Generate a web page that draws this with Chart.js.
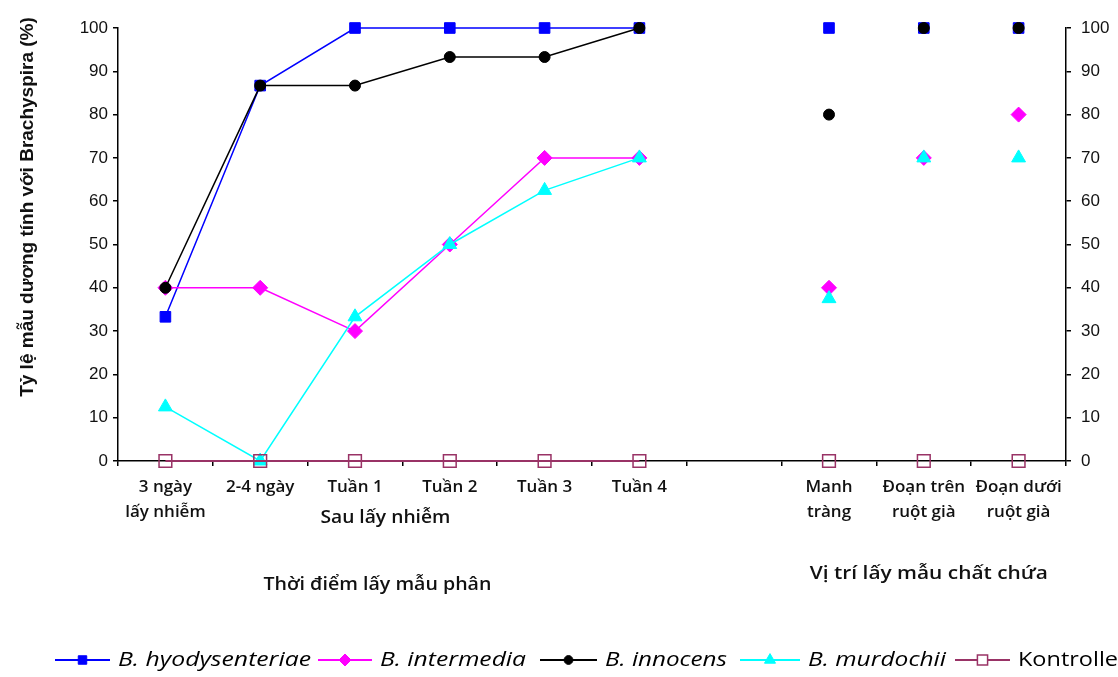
<!DOCTYPE html>
<html><head><meta charset="utf-8">
<script src="https://cdn.jsdelivr.net/npm/chart.js@4.4.0/dist/chart.umd.min.js"></script>
<style>html,body{margin:0;padding:0;background:#fff;overflow:hidden}#wrap{width:1118px;height:677px;position:relative}</style>
</head><body><div id="wrap"><canvas id="c" width="1118" height="677"></canvas></div>
<script>
const categories = [["3 ngày","lấy nhiễm"],"2-4 ngày","Tuần 1","Tuần 2","Tuần 3","Tuần 4","",["Manh","tràng"],["Đoạn trên","ruột già"],["Đoạn dưới","ruột già"]];
const hyodysenteriae = [33.3, 86.7, 100, 100, 100, 100, null, 100, 100, 100];
const intermedia     = [40, 40, 30, 50, 70, 70, null, 40, 70, 80];
const innocens       = [40, 86.7, 86.7, 93.3, 93.3, 100, null, 80, 100, 100];
const murdochii      = [12.5, 0, 33.3, 50, 62.5, 70, null, 37.5, 70, 70];
const kontrolle      = [0, 0, 0, 0, 0, 0, null, 0, 0, 0];
const seriesNames = ["B. hyodysenteriae","B. intermedia","B. innocens","B. murdochii","Kontrolle"];
const yTicks = [0,10,20,30,40,50,60,70,80,90,100];
const yTitle = "Tỷ lệ mẫu dương tính với Brachyspira (%)";
const subLabel = "Sau lấy nhiễm";
const xTitle1 = "Thời điểm lấy mẫu phân";
const xTitle2 = "Vị trí lấy mẫu chất chứa";

const hideRight = (col) => ({ borderColor: ctx => ctx.p0DataIndex >= 6 ? 'rgba(0,0,0,0)' : col });
function ds(label, data, col, style, radius, order, fill) {
  return { label, data, borderColor: col, backgroundColor: fill || col, pointBackgroundColor: fill || col,
    pointBorderColor: col, pointStyle: style, pointRadius: radius, pointHoverRadius: radius,
    borderWidth: 1.5, pointBorderWidth: 1, order, spanGaps: false, segment: hideRight(col), tension: 0, clip: false };
}
const styles = [
  { col: '#0000FF', style: 'rect', r: 7.5 },
  { col: '#FF00FF', style: 'rectRot', r: 7.5 },
  { col: '#000000', style: 'circle', r: 5.5 },
  { col: '#00FFFF', style: 'triangle', r: 8 },
  { col: '#993366', style: 'rect', r: 9, fill: 'rgba(0,0,0,0)' }
];
const datasets = [
  ds(seriesNames[0], hyodysenteriae, styles[0].col, styles[0].style, styles[0].r, 5),
  ds(seriesNames[1], intermedia, styles[1].col, styles[1].style, styles[1].r, 4),
  ds(seriesNames[2], innocens, styles[2].col, styles[2].style, styles[2].r, 3),
  ds(seriesNames[3], murdochii, styles[3].col, styles[3].style, styles[3].r, 2),
  ds(seriesNames[4], kontrolle, styles[4].col, styles[4].style, styles[4].r, 1, 'rgba(0,0,0,0)')
];
datasets[4].pointBorderWidth = 1.5;
datasets[4].borderWidth = 2;

const labelFont = "'Open Sans', 'Noto Sans', sans-serif";
function fitText(ctx, text, x, y, targetW, align) {
  const w = ctx.measureText(text).width;
  const sx = targetW / w;
  ctx.save();
  let x0 = x;
  if (align === 'center') x0 = x - targetW / 2;
  ctx.translate(x0, y);
  ctx.scale(sx, 1);
  ctx.textAlign = 'left';
  ctx.fillText(text, 0, 0);
  ctx.restore();
}
const textPlugin = {
  id: 'texts',
  afterDraw(chart) {
    const ctx = chart.ctx, xs = chart.scales.x, ca = chart.chartArea;
    ctx.save();
    ctx.fillStyle = '#111';
    ctx.font = "bold 19px 'Liberation Sans', Arial, sans-serif";
    ctx.textAlign = 'center'; ctx.textBaseline = 'middle';
    ctx.translate(28, 207);
    ctx.rotate(-Math.PI / 2);
    ctx.fillText(yTitle, 0, 0);
    ctx.restore();
    ctx.save();
    ctx.fillStyle = '#111';
    ctx.font = "600 18px " + labelFont;
    ctx.textBaseline = 'middle';
    const mid = (xs.getPixelForValue(2) + xs.getPixelForValue(3)) / 2;
    fitText(ctx, subLabel, mid - 17, ca.bottom + 57, 130, 'center');
    fitText(ctx, xTitle1, mid - 25, ca.bottom + 124, 228, 'center');
    fitText(ctx, xTitle2, xs.getPixelForValue(8) + 5, ca.bottom + 113, 238, 'center');
    // legend
    const items = [[55,110,193],[318,372,146],[540,597,122],[740,800,138],[955,1010,100]];
    const ly = 660;
    items.forEach((it, i) => {
      const s = styles[i];
      ctx.strokeStyle = s.col; ctx.lineWidth = 2;
      ctx.beginPath(); ctx.moveTo(it[0], ly); ctx.lineTo(it[1], ly); ctx.stroke();
      ctx.fillStyle = s.fill ? '#fff' : s.col;
      ctx.lineWidth = i === 4 ? 1.5 : 1;
      Chart.helpers.drawPoint(ctx, { pointStyle: s.style, radius: s.r * 0.8, rotation: 0, borderWidth: ctx.lineWidth }, (it[0] + it[1]) / 2, ly);
      ctx.fillStyle = '#000';
      ctx.font = (i === 4 ? "" : "italic ") + "20px " + labelFont;
      fitText(ctx, seriesNames[i], it[1] + 8, ly, it[2], 'left');
    });
    ctx.restore();
  }
};

const tickFont = { family: "'Liberation Sans', Arial, sans-serif", size: 17 };
new Chart(document.getElementById('c'), {
  type: 'line',
  data: { labels: categories, datasets },
  options: {
    responsive: false, animation: false,
    layout: { padding: { top: 28, right: 0, left: 0, bottom: 0 } },
    plugins: { legend: { display: false }, tooltip: { enabled: false } },
    scales: {
      x: {
        offset: true,
        grid: { offset: true, drawOnChartArea: false, drawTicks: true, tickLength: 5, color: '#000', lineWidth: 1.5 },
        border: { display: true, color: '#000', width: 1.5 },
        ticks: { color: '#111', font: { family: labelFont, size: 17, weight: '600', lineHeight: 1.5 }, maxRotation: 0, autoSkip: false, padding: 8 },
        afterFit: s => { s.height = 677 - 461; }
      },
      y: {
        position: 'left', min: 0, max: 100,
        afterBuildTicks: s => { s.ticks = yTicks.map(v => ({ value: v })); },
        grid: { drawOnChartArea: false, drawTicks: true, tickLength: 5, color: '#000', lineWidth: 1.5 },
        border: { display: true, color: '#000', width: 1.5 },
        ticks: { color: '#111', font: tickFont, padding: 5 },
        afterFit: s => { s.width = 118; }
      },
      y1: {
        position: 'right', min: 0, max: 100, display: true,
        afterBuildTicks: s => { s.ticks = yTicks.map(v => ({ value: v })); },
        grid: { drawOnChartArea: false, drawTicks: true, tickLength: 5, color: '#000', lineWidth: 1.5 },
        border: { display: true, color: '#000', width: 1.5 },
        ticks: { color: '#111', font: tickFont, padding: 10 },
        afterFit: s => { s.width = 1118 - 1066; }
      }
    }
  },
  plugins: [textPlugin]
});
</script></body></html>
